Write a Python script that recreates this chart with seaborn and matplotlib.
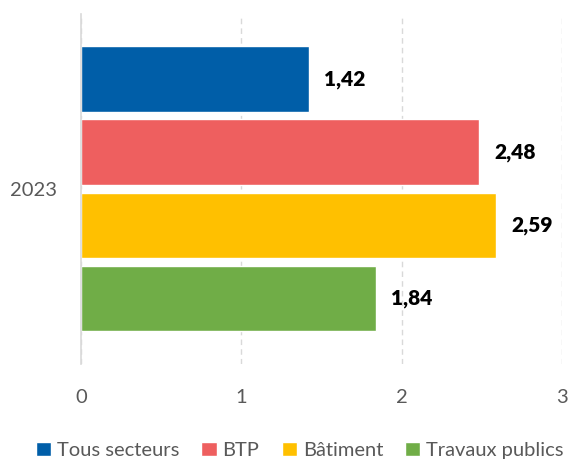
import matplotlib
matplotlib.use("Agg")
import matplotlib.pyplot as plt
import pandas as pd
import seaborn as sns

years = ["2023"]
series = ["Tous secteurs", "BTP", "Bâtiment", "Travaux publics"]
values = [1.42, 2.48, 2.59, 1.84]
colors = ["#005EA8", "#EE5F5F", "#FFC000", "#70AD47"]

df = pd.DataFrame({
    "annee": years * len(series),
    "serie": series,
    "valeur": values,
})

sns.set_theme(style="white")
plt.rcParams["font.family"] = ["Lato", "DejaVu Sans"]

fig = plt.figure(figsize=(5.7, 4.59), dpi=100)
ax = fig.add_axes([0.142, 0.207, 0.844, 0.763])

sns.barplot(data=df, y="annee", x="valeur", hue="serie", orient="h",
            palette=colors, width=0.835, gap=0.1, saturation=1,
            ax=ax, legend=True)

for cont in ax.containers:
    labels = [f"{v:.2f}".replace(".", ",") for v in cont.datavalues]
    ax.bar_label(cont, labels=labels, padding=11, fontsize=15,
                 fontweight="heavy", color="black")

ax.set_xlim(0, 3)
ax.set_xticks([0, 1, 2, 3])
ax.set_ylim(0.5, -0.5)
ax.xaxis.grid(True, linestyle=(0, (4, 3)), color="#D9D9D9", linewidth=1)
ax.set_axisbelow(True)
for s in ["top", "right", "bottom"]:
    ax.spines[s].set_visible(False)
ax.spines["left"].set_color("#D9D9D9")
ax.spines["left"].set_linewidth(1.2)
ax.tick_params(axis="both", length=0, labelsize=14.5, colors="#595959")
ax.tick_params(axis="y", pad=17)
ax.tick_params(axis="x", pad=18)
ax.set_xlabel("")
ax.set_ylabel("")

handles, labs = ax.get_legend_handles_labels()
ax.legend(handles, labs, loc="upper center", bbox_to_anchor=(0.455, -0.17),
          ncol=4, frameon=False, fontsize=14.5, handlelength=0.75,
          handleheight=0.75, handletextpad=0.3, columnspacing=1.1,
          labelcolor="#595959")

fig.savefig("out.png", dpi=100)
